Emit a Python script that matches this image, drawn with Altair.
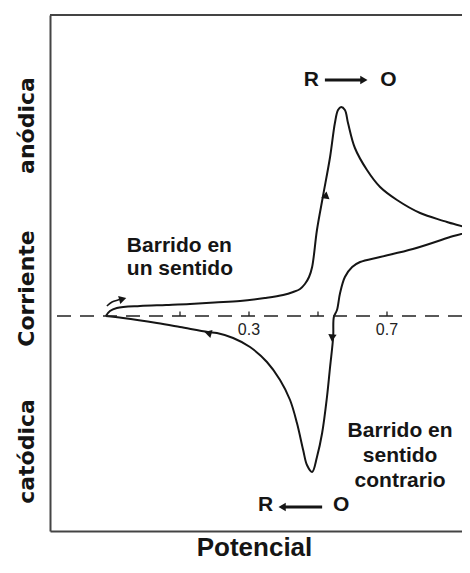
import altair as alt
import pandas as pd

# ---------------- data (potential in V, current in arbitrary units) ----------------
fwd_E = [-0.115, -0.103, -0.083, -0.016, 0.060, 0.129, 0.200, 0.274, 0.346, 0.399,
         0.428, 0.448, 0.462, 0.474, 0.483, 0.497, 0.514, 0.535, 0.549, 0.558,
         0.567, 0.578, 0.587, 0.607, 0.642, 0.680, 0.729, 0.796, 0.874, 0.941]
fwd_I = [0.0, 0.5, 0.8, 1.0, 1.1, 1.2, 1.35, 1.5, 1.8, 2.1,
         2.4, 2.7, 3.2, 3.9, 4.9, 8.6, 11.9, 15.9, 19.3, 20.6,
         20.9, 20.6, 19.3, 16.8, 14.6, 12.9, 11.6, 10.3, 9.4, 8.6]
rev_E = [0.874, 0.775, 0.680, 0.622, 0.599, 0.578, 0.564, 0.555, 0.546, 0.544,
         0.535, 0.526, 0.512, 0.497, 0.483, 0.468, 0.457, 0.439, 0.419, 0.390,
         0.352, 0.303, 0.254, 0.207, 0.181, 0.100, 0.033, -0.065, -0.115]
rev_I = [7.8, 6.7, 5.9, 5.4, 4.9, 3.9, 2.3, 0.6, -0.1, -2.1,
         -5.1, -8.1, -11.7, -14.1, -15.6, -14.9, -13.4, -10.7, -8.4, -6.4,
         -4.6, -3.1, -2.2, -1.7, -1.6, -1.1, -0.7, -0.2, 0.0]

tick_E = [0.1, 0.3, 0.5, 0.7]
tick_label_E = [0.3, 0.7]
tick_label_text = ["0.3", "0.7"]

# direction arrowheads along the curve
head_E = [0.523, 0.541, 0.181, -0.066]
head_I = [12.1, -2.2, -1.7, 1.7]
head_shape = ["triangle-up", "triangle-down", "triangle-left", "triangle-right"]
head_angle = [9, 5, 15, 345]

# small curved "start" arrow
start_E = [-0.112, -0.097, -0.080, -0.070]
start_I = [1.0, 1.4, 1.6, 1.7]

# labels
left_note = ["Barrido en", "un sentido"]
left_note_E = [-0.054, -0.054]
left_note_I = [6.4, 4.1]
right_note = ["Barrido en", "sentido", "contrario"]
right_note_E = [0.738, 0.738, 0.738]
right_note_I = [-12.1, -14.6, -17.1]

ro_text = ["R", "O", "R", "O"]
ro_E = [0.481, 0.704, 0.348, 0.567]
ro_I = [23.6, 23.6, -18.9, -18.9]

arrow_E1 = [0.520, 0.404]
arrow_E2 = [0.628, 0.512]
arrow_I = [23.6, -19.1]
arrow_head_E = [0.633, 0.396]
arrow_head_shape = ["triangle-right", "triangle-left"]

# visible window of the axes (the figure is cropped on the right)
X_DOMAIN = [-0.2768, 0.9174]
Y_DOMAIN = [-21.5, 30.1]

# ---------------- tables ----------------
curve = pd.DataFrame({
    "E": fwd_E + rev_E,
    "I": fwd_I + rev_I,
})
curve["order"] = range(len(curve))

ticks = pd.DataFrame({"E": tick_E, "I": [0.0] * len(tick_E), "I2": [0.45] * len(tick_E)})
tlabels = pd.DataFrame({"E": tick_label_E, "I": [-1.4] * 2, "t": tick_label_text})
heads = pd.DataFrame({"E": head_E, "I": head_I, "shape": head_shape, "ang": head_angle})
start = pd.DataFrame({"E": start_E, "I": start_I})
start["order"] = range(len(start))
lnote = pd.DataFrame({"E": left_note_E, "I": left_note_I, "t": left_note})
rnote = pd.DataFrame({"E": right_note_E, "I": right_note_I, "t": right_note})
ro = pd.DataFrame({"E": ro_E, "I": ro_I, "t": ro_text})
arrows = pd.DataFrame({"E": arrow_E1, "E2": arrow_E2, "I": arrow_I})
aheads = pd.DataFrame({"E": arrow_head_E, "I": arrow_I, "shape": arrow_head_shape})
zero = pd.DataFrame({"I": [0.0]})
top = pd.DataFrame({"I": [Y_DOMAIN[1]]})

xs = alt.Scale(domain=X_DOMAIN, nice=False, zero=False)
ys = alt.Scale(domain=Y_DOMAIN, nice=False, zero=False)
FRAME = "#444444"
INK = "#151515"

x_bottom = alt.X("E:Q", scale=xs, axis=alt.Axis(
    title="Potencial", labels=False, ticks=False, grid=False,
    domainColor=FRAME, domainWidth=2,
    titleFont="Liberation Sans", titleFontSize=26, titleFontWeight="bold",
    titleColor=INK, titleX=204, titleY=24, titleBaseline="alphabetic",
    titleAlign="center"))
y_left = alt.Y("I:Q", scale=ys, axis=alt.Axis(
    title="Corriente", values=[19.1, -13.5],
    labelExpr="datum.value > 0 ? 'anódica' : 'catódica'",
    ticks=False, tickSize=0, grid=False, domainColor=FRAME, domainWidth=2,
    labelAngle=270, labelAlign="center", labelBaseline="alphabetic",
    labelPadding=17, labelFont="DejaVu Sans", labelFontSize=22,
    labelFontWeight="bold", labelColor=INK, labelOverlap=False,
    titleFont="DejaVu Sans", titleFontSize=22, titleFontWeight="bold",
    titleColor=INK, titleAngle=270, titleX=-17, titleY=273,
    titleAlign="center", titleBaseline="alphabetic"))

xn = alt.X("E:Q", scale=xs, axis=None)
yn = alt.Y("I:Q", scale=ys, axis=None)

line = alt.Chart(curve).mark_line(
    color=INK, strokeWidth=2, interpolate="catmull-rom", clip=True
).encode(x=x_bottom, y=y_left, order="order:Q")

top_frame = alt.Chart(top).mark_rule(color=FRAME, strokeWidth=2).encode(y=yn)

zero_line = alt.Chart(zero).mark_rule(
    color="#222222", strokeWidth=1.5, strokeDash=[14, 9]
).encode(y=yn)

tick_marks = alt.Chart(ticks).mark_rule(color="#222222", strokeWidth=1.3).encode(
    x=xn, y=yn, y2="I2:Q")

tick_text = alt.Chart(tlabels).mark_text(
    font="Liberation Sans", fontSize=16, color="#222222", baseline="middle", align="center"
).encode(x=xn, y=yn, text="t:N")

head_marks = alt.Chart(heads).mark_point(filled=True, color=INK, size=70, opacity=1).encode(
    x=xn, y=yn,
    shape=alt.Shape("shape:N", scale=None),
    angle=alt.Angle("ang:Q", scale=None),
)

start_arrow = alt.Chart(start).mark_line(color=INK, strokeWidth=1.5, interpolate="catmull-rom").encode(
    x=xn, y=yn, order="order:Q")

note_font = dict(font="Liberation Sans", fontSize=21, fontWeight="bold", color=INK)
lnote_text = alt.Chart(lnote).mark_text(align="left", baseline="alphabetic", **note_font).encode(
    x=xn, y=yn, text="t:N")
rnote_text = alt.Chart(rnote).mark_text(align="center", baseline="alphabetic", **note_font).encode(
    x=xn, y=yn, text="t:N")
ro_marks = alt.Chart(ro).mark_text(align="center", baseline="middle", **note_font).encode(
    x=xn, y=yn, text="t:N")
arrow_lines = alt.Chart(arrows).mark_rule(color=INK, strokeWidth=3).encode(
    x=xn, x2="E2:Q", y=yn)
arrow_heads = alt.Chart(aheads).mark_point(filled=True, color=INK, size=70, opacity=1).encode(
    x=xn, y=yn, shape=alt.Shape("shape:N", scale=None))

chart = alt.layer(
    line, top_frame, zero_line, tick_marks, tick_text, head_marks, start_arrow,
    lnote_text, rnote_text, ro_marks, arrow_lines, arrow_heads
).resolve_axis(x="independent", y="independent").properties(
    width=412, height=516,
    autosize=alt.AutoSizeParams(type="none"),
    padding={"left": 42, "top": 7, "right": 0, "bottom": 30},
    background="white",
).configure_view(stroke=None)

chart.save("out.html", embed_options={"renderer": "svg", "actions": False})
